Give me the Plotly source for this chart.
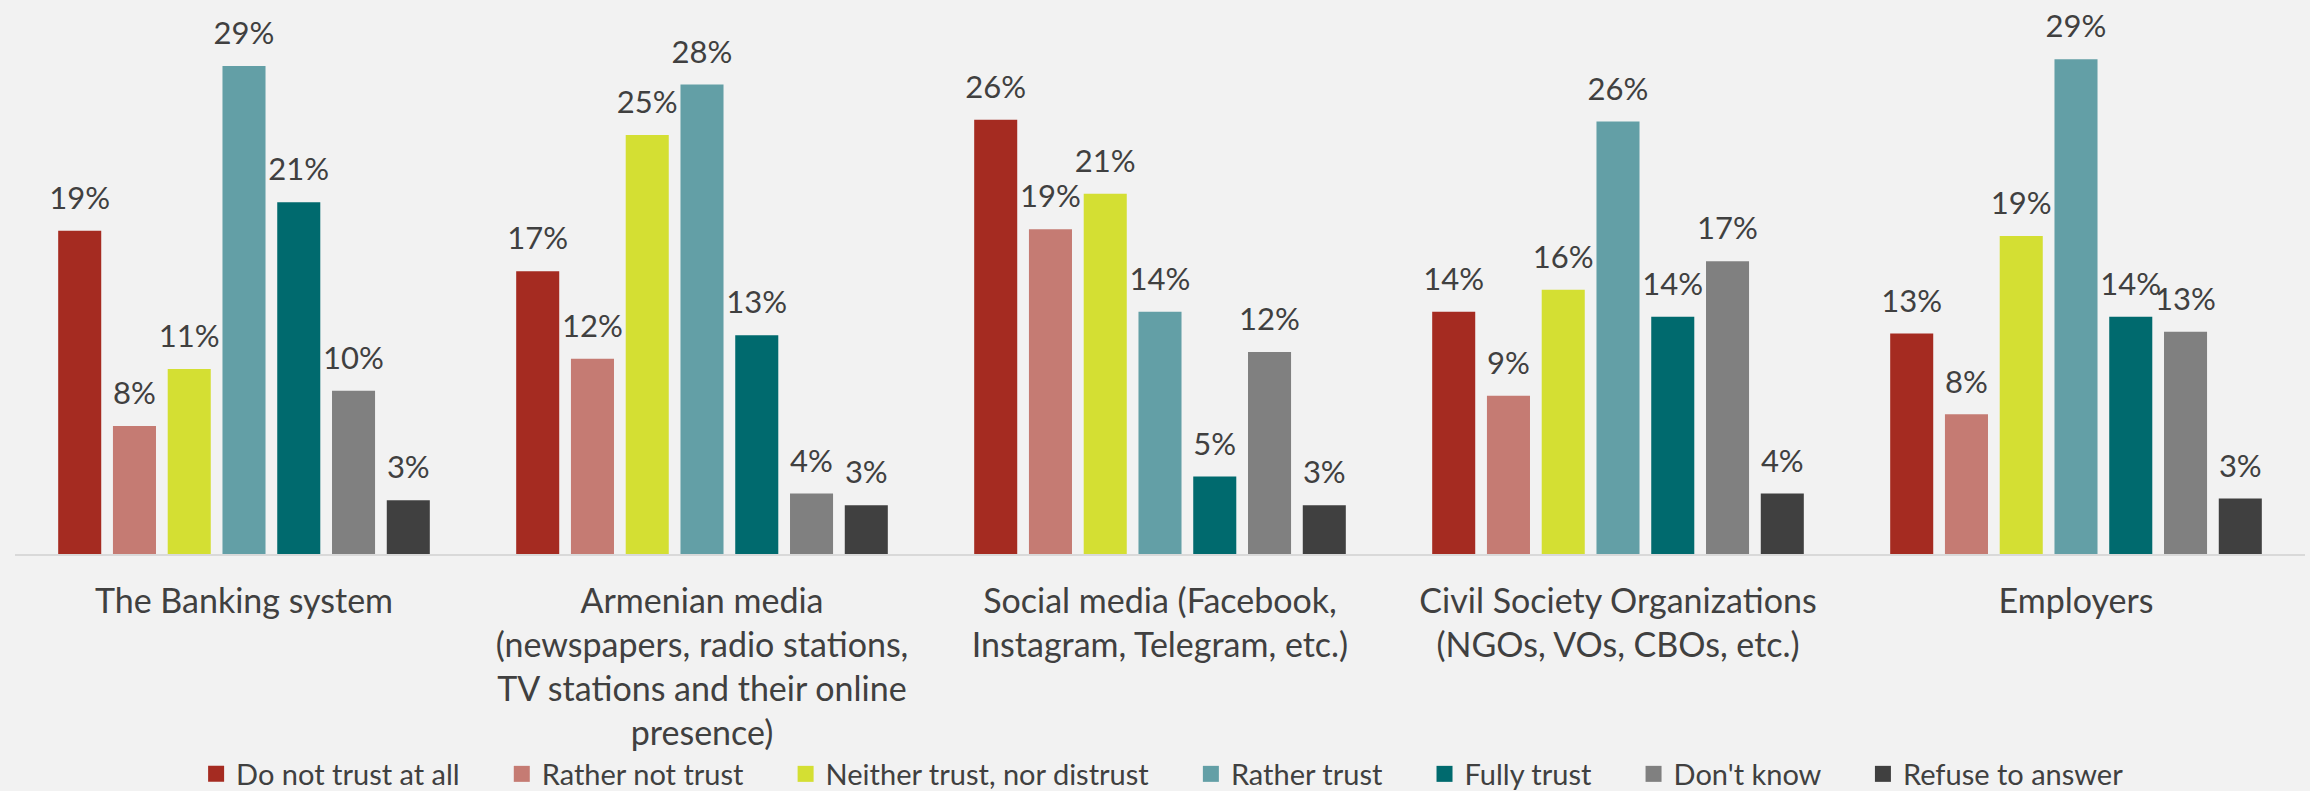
import plotly.graph_objects as go

categories = [
    "The Banking system",
    "Armenian media<br>(newspapers, radio stations,<br>TV stations and their online<br>presence)",
    "Social media (Facebook,<br>Instagram, Telegram, etc.)",
    "Civil Society Organizations<br>(NGOs, VOs, CBOs, etc.)",
    "Employers",
]

series_names = [
    "Do not trust at all",
    "Rather not trust",
    "Neither trust, nor distrust",
    "Rather trust",
    "Fully trust",
    "Don't know",
    "Refuse to answer",
]

do_not_trust = [19.2, 16.8, 25.8, 14.4, 13.1]
rather_not_trust = [7.6, 11.6, 19.3, 9.4, 8.3]
neither = [11.0, 24.9, 21.4, 15.7, 18.9]
rather_trust = [29.0, 27.9, 14.4, 25.7, 29.4]
fully_trust = [20.9, 13.0, 4.6, 14.1, 14.1]
dont_know = [9.7, 3.6, 12.0, 17.4, 13.2]
refuse = [3.2, 2.9, 2.9, 3.6, 3.3]

series_values = [do_not_trust, rather_not_trust, neither, rather_trust,
                 fully_trust, dont_know, refuse]

colors = ["#A52B21", "#C57B73", "#D4DF33", "#639FA6", "#006A6E", "#808080", "#404040"]

FONT = "Lato"
TXT = "#404040"
BG = "#F2F2F2"
LABEL_LIFT = 0.7  # gap (axis units) between bar top and its value label

fig = go.Figure()
for i, (name, vals, col) in enumerate(zip(series_names, series_values, colors)):
    fig.add_trace(go.Bar(
        x=categories,
        y=vals,
        name=name,
        offsetgroup=str(i),
        showlegend=False,
        marker=dict(color=col, line=dict(width=0)),
        hoverinfo="skip",
    ))
    # transparent carrier bar sitting on top of the real bar, holding the value label
    fig.add_trace(go.Bar(
        x=categories,
        y=[LABEL_LIFT] * len(vals),
        base=vals,
        customdata=vals,
        offsetgroup=str(i),
        showlegend=False,
        marker=dict(color="rgba(0,0,0,0)", line=dict(width=0)),
        texttemplate="%{customdata:.0f}%",
        textposition="outside",
        constraintext="none",
        cliponaxis=False,
        textfont=dict(family=FONT, size=31, color=TXT),
        hoverinfo="skip",
    ))

# legend entries with larger square swatches
for name, col in zip(series_names, colors):
    fig.add_trace(go.Scatter(
        x=[None],
        y=[None],
        mode="markers",
        name=name + "\u00a0" * 5,
        marker=dict(symbol="square", size=16, color=col),
        showlegend=True,
        hoverinfo="skip",
    ))

fig.update_layout(
    width=2310,
    height=791,
    paper_bgcolor=BG,
    plot_bgcolor=BG,
    barmode="group",
    bargap=0.163,
    bargroupgap=0.214,
    margin=dict(l=15, r=5, t=20, b=237, autoexpand=False),
    font=dict(family=FONT, color=TXT),
    showlegend=True,
    hovermode=False,
    legend=dict(
        orientation="h",
        x=0.509,
        xanchor="center",
        y=-0.412,
        yanchor="middle",
        font=dict(family=FONT, size=29, color=TXT),
        bgcolor="rgba(0,0,0,0)",
        itemclick=False,
        itemdoubleclick=False,
        itemsizing="trace",
    ),
    xaxis=dict(
        showline=True,
        linecolor="#D9D9D9",
        linewidth=2,
        showgrid=False,
        zeroline=False,
        ticks="",
        ticklabelstandoff=16,
        tickfont=dict(family=FONT, size=34, color=TXT),
    ),
    yaxis=dict(
        visible=False,
        range=[0, 31.73],
        showgrid=False,
        zeroline=False,
    ),
)

fig.write_html(
    "out.html",
    config={"displayModeBar": False, "staticPlot": True},
    post_script="document.body.style.margin='0';document.body.style.overflow='hidden';",
)
